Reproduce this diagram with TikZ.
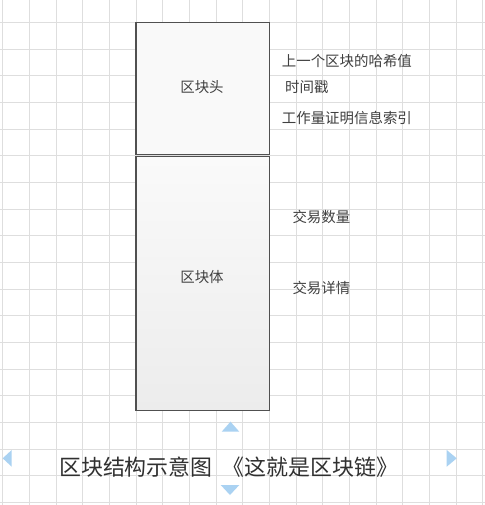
\documentclass[tikz,border=0pt]{standalone}
\usepackage{fontspec}
\setmainfont{Noto Sans CJK SC}
\definecolor{gridc}{HTML}{DEDEDE}
\definecolor{edgec}{HTML}{505050}
\definecolor{txtc}{HTML}{404040}
\definecolor{handc}{HTML}{AAD2F2}
\tikzset{
  box/.style={draw=edgec, line width=1.3pt, inner sep=0pt},
  lbl/.style={text=txtc, font=\fontsize{14.5}{15}\selectfont, inner sep=0pt},
  side/.style={lbl, anchor=west},
  handle/.style={fill=handc, draw=none},
}
\begin{document}
\begin{tikzpicture}[x=1bp,y=-1bp]
\useasboundingbox (0,0) rectangle (485,505);
\fill[white] (0,0) rectangle (485,505);
% grid
\foreach \k in {0,...,18} {
  \draw[gridc, line width=0.9pt] ({2.7+26.667*\k},0) -- ({2.7+26.667*\k},505);
  \draw[gridc, line width=0.9pt] (0,{22.3+26.667*\k}) -- (485,{22.3+26.667*\k});
}
% boxes
\node[box, fill={rgb,255:red,249;green,249;blue,249}, minimum width=133.3bp, minimum height=132.2bp] (head) at (202.65,88.4) {};
\node[box, top color={rgb,255:red,250;green,250;blue,250}, bottom color={rgb,255:red,236;green,236;blue,236}, minimum width=133.3bp, minimum height=254.2bp] (body) at (202.65,283.6) {};
\node[lbl] (headt) at (202,86.7) {区块头};
\node[lbl] (bodyt) at (202,276.7) {区块体};
% side texts
\node[side] (h1) at (281.7,61) {上一个区块的哈希值};
\node[side] (h2) at (285,87.5) {时间戳};
\node[side] (h3) at (281.7,117.5) {工作量证明信息索引};
\node[side] (b1) at (292.3,216.5) {交易数量};
\node[side] (b2) at (292.3,287.5) {交易详情};
% caption
\node[text={rgb,255:red,48;green,48;blue,48}, font=\fontsize{22}{23}\selectfont, inner sep=0pt, anchor=west] (cap) at (59,467.5) {区块结构示意图\hspace{10bp}《这就是区块链》};
% selection handles
\fill[handle] (221.7,431.7) -- (239.3,431.7) -- (230.5,421.7) -- cycle;
\fill[handle] (220.7,485) -- (239.3,485) -- (230,495) -- cycle;
\fill[handle] (11.7,450) -- (11.7,466.7) -- (2.7,458.3) -- cycle;
\fill[handle] (446.7,450) -- (446.7,466.7) -- (456.7,458.3) -- cycle;
\end{tikzpicture}
\end{document}
